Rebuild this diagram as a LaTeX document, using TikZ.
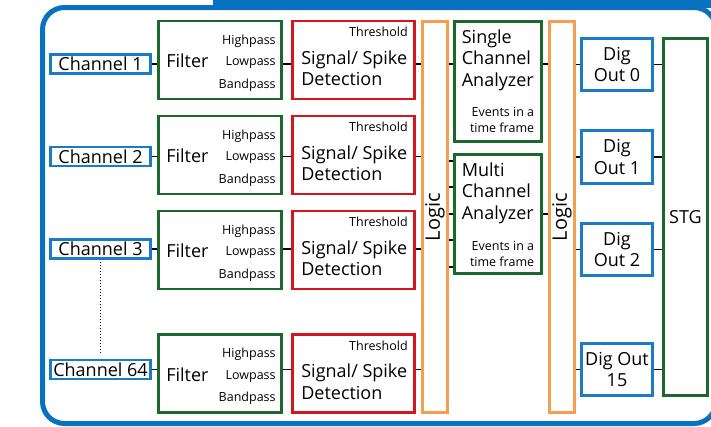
\documentclass[tikz,border=0pt]{standalone}
\usepackage{fontspec}
\setmainfont{Open Sans}
\definecolor{frameblue}{RGB}{8,114,192}
\definecolor{boxblue}{RGB}{26,124,198}
\definecolor{boxgreen}{RGB}{28,104,44}
\definecolor{boxred}{RGB}{212,22,30}
\definecolor{boxorange}{RGB}{245,158,82}
\tikzset{
  box/.style={draw, line width=2.8pt, inner sep=0pt, fill=white, align=center},
  bbox/.style={box, draw=boxblue},
  gbox/.style={box, draw=boxgreen},
  rbox/.style={box, draw=boxred},
  obox/.style={box, draw=boxorange},
  big/.style={font=\fontsize{18}{21.5}\selectfont},
  small/.style={font=\fontsize{12.5}{16}\selectfont},
  logictext/.style={font=\fontsize{20}{24}\selectfont, rotate=90},
  conn/.style={line width=1.1pt, black},
  chbox/.style={bbox, big, minimum width=100pt, minimum height=19pt},
  filtbox/.style={gbox, minimum width=123.6pt, minimum height=78pt},
  sigbox/.style={rbox, minimum width=122.6pt, minimum height=78pt},
  logicbox/.style={obox, minimum width=25.6pt, minimum height=391.6pt},
  anbox/.style={gbox, minimum width=87.6pt, minimum height=120pt},
  digbox/.style={bbox, big, minimum width=71.6pt, minimum height=52.6pt},
}
\begin{document}
\begin{tikzpicture}[x=1pt,y=-1pt]
\useasboundingbox (0,0) rectangle (711,426);
\clip (0,0) rectangle (711,426);
\fill[white] (0,0) rectangle (711,426);
% frame
\fill[frameblue] (213,0) rectangle (711,8);
\draw[frameblue, line width=5pt, rounded corners=22pt] (42.5,7.5) rectangle (716,423.5);

% channels
\node[chbox] (ch1) at (100.5,64) {Channel 1};
\node[chbox] (ch2) at (100.5,156.5) {Channel 2};
\node[chbox] (ch3) at (100.5,249) {Channel 3};
\node[chbox] (ch4) at (100.5,369.5) {Channel 64};

% filters and detection
\foreach \n/\cy in {1/60,2/155,3/250,4/373.5}{
  \node[filtbox] (f\n) at (220,\cy) {};
  \node[big, anchor=west] (ft\n) at ([xshift=6pt,yshift=-1pt]f\n.west) {Filter};
  \node[small, anchor=east] (fh\n) at ([xshift=-4pt,yshift=19pt]f\n.east) {Highpass};
  \node[small, anchor=east] (fl\n) at ([xshift=-4pt,yshift=-3pt]f\n.east) {Lowpass};
  \node[small, anchor=east] (fb\n) at ([xshift=-4pt,yshift=-25pt]f\n.east) {Bandpass};
  \node[sigbox] (s\n) at (353.5,\cy) {};
  \node[small, anchor=east] (st\n) at ([xshift=-5pt,yshift=28pt]s\n.east) {Threshold};
  \node[big, anchor=west, align=left] (sd\n) at ([xshift=7pt,yshift=-8pt]s\n.west) {Signal/ Spike\\Detection};
}

% logic blocks
\node[logicbox] (lg1) at (435,217) {};
\node[logictext] (lt1) at (lg1.center) {Logic};
\node[logicbox] (lg2) at (562,217) {};
\node[logictext] (lt2) at (lg2.center) {Logic};

% analyzers
\node[anbox, minimum height=120.6pt] (sca) at (498,81.5) {};
\node[big, anchor=west, align=left] (scat) at ([xshift=5.5pt,yshift=21.5pt]sca.west) {Single\\Channel\\Analyzer};
\node[small, anchor=east, align=right] (scae) at ([xshift=-5.5pt,yshift=-38.5pt]sca.east) {Events in a\\time frame};
\node[anbox, minimum height=119.6pt] (mca) at (498,214) {};
\node[big, anchor=west, align=left] (mcat) at ([xshift=5.5pt,yshift=21pt]mca.west) {Multi\\Channel\\Analyzer};
\node[small, anchor=east, align=right] (mcae) at ([xshift=-5.5pt,yshift=-39.5pt]mca.east) {Events in a\\time frame};

% dig outs and STG
\node[digbox] (d0) at (617,64.5) {Dig\\Out 0};
\node[digbox] (d1) at (617,157) {Dig\\Out 1};
\node[digbox] (d2) at (617,249.5) {Dig\\Out 2};
\node[digbox] (d15) at (617,369.5) {Dig Out\\15};
\node[gbox, big, minimum width=44.6pt, minimum height=357.6pt] (stg) at (685.5,217) {STG};

% connectors per channel row
\foreach \n in {1,2,3,4}{
  \draw[conn] (ch\n.east) -- (ch\n.east -| f\n.west);
  \draw[conn] (ch\n.east -| f\n.east) -- (ch\n.east -| s\n.west);
  \draw[conn] (ch\n.east -| s\n.east) -- (ch\n.east -| lg1.west);
}
\draw[conn] (ch1.east -| lg1.east) -- (ch1.east -| sca.west);
\foreach \d in {53,27,0,-26,-53}{
  \draw[conn] ([yshift=\d pt]mca.west) -- ([yshift=\d pt]mca.west -| lg1.east);
}
\draw[conn] (ch1.east -| sca.east) -- (ch1.east -| lg2.west);
\draw[conn] (mca.east) -- (mca.east -| lg2.west);
\foreach \m in {d0,d1,d2,d15}{
  \draw[conn] (\m.west) -- (\m.west -| lg2.east);
  \draw[conn] (\m.east) -- (\m.east -| stg.west);
}
\draw[line width=1pt, dotted, shorten <=2pt, shorten >=5pt] (ch3.south) -- (ch4.north);
\end{tikzpicture}
\end{document}
